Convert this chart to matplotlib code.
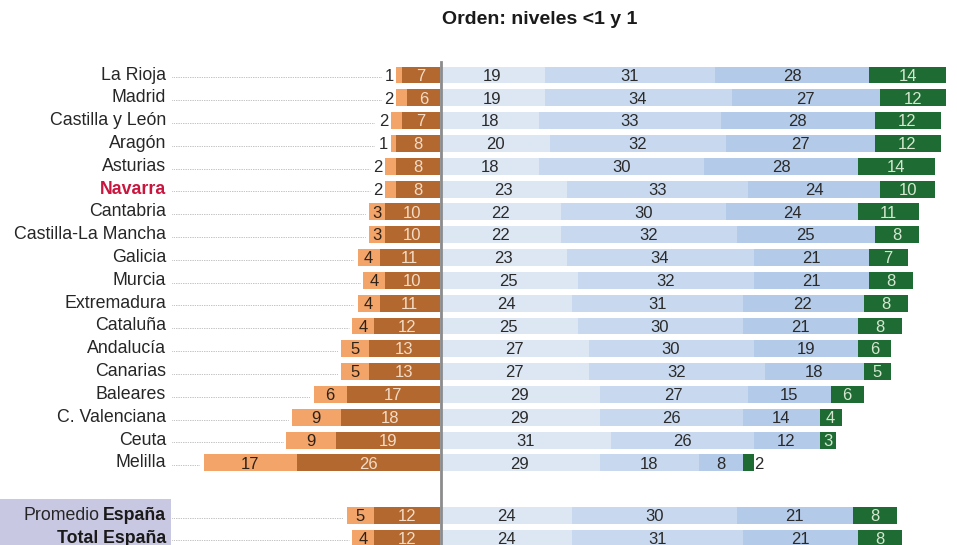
import matplotlib.pyplot as plt
import numpy as np

regiones = ["La Rioja", "Madrid", "Castilla y León", "Aragón", "Asturias", "Navarra",
            "Cantabria", "Castilla-La Mancha", "Galicia", "Murcia", "Extremadura",
            "Cataluña", "Andalucía", "Canarias", "Baleares", "C. Valenciana", "Ceuta",
            "Melilla", "Promedio España", "Total España"]
nivel_menor1 = [1, 2, 2, 1, 2, 2, 3, 3, 4, 4, 4, 4, 5, 5, 6, 9, 9, 17, 5, 4]
nivel1 = [7, 6, 7, 8, 8, 8, 10, 10, 11, 10, 11, 12, 13, 13, 17, 18, 19, 26, 12, 12]
nivel2 = [19, 19, 18, 20, 18, 23, 22, 22, 23, 25, 24, 25, 27, 27, 29, 29, 31, 29, 24, 24]
nivel3 = [31, 34, 33, 32, 30, 33, 30, 32, 34, 32, 31, 30, 30, 32, 27, 26, 26, 18, 30, 31]
nivel4 = [28, 27, 28, 27, 28, 24, 24, 25, 21, 21, 22, 21, 19, 18, 15, 14, 12, 8, 21, 21]
nivel5 = [14, 12, 12, 12, 14, 10, 11, 8, 7, 8, 8, 8, 6, 5, 6, 4, 3, 2, 8, 8]

FUENTE = "Liberation Sans"
pos = np.concatenate([np.arange(18), [19.3, 20.3]])
h = 0.74
fs_lab = 12.8
fs_num = 12

fig = plt.figure(figsize=(9.57, 5.45), dpi=100)
ax = fig.add_axes([0, 0, 1, 1])
ax.set_xlim(-80, 94)
ax.set_ylim(20.6, -3.29)
ax.axis("off")

c_naranja = "#F2A469"
c_marron = "#B3682F"
c_azules = ["#DDE7F4", "#C8D9EF", "#B3CAE8"]
c_verde = "#1E6B34"

n0 = np.array(nivel_menor1)
n1 = np.array(nivel1)

# izquierda: niveles 1 y <1
ax.barh(pos, -n1, height=h, color=c_marron, linewidth=0)
ax.barh(pos, -n0, left=-n1, height=h, color=c_naranja, linewidth=0)

# derecha: niveles 2, 3, 4 y 5
izq = np.zeros(len(pos))
for vals, col in zip([nivel2, nivel3, nivel4], c_azules):
    v = np.array(vals)
    ax.barh(pos, v, left=izq, height=h, color=col, linewidth=0)
    for y, l, w in zip(pos, izq, v):
        ax.text(l + w / 2, y + 0.05, str(w), ha="center", va="center",
                fontsize=fs_num, color="#2a2a2a", family=FUENTE)
    izq = izq + v
v5 = np.array(nivel5)
ax.barh(pos, v5, left=izq, height=h, color=c_verde, linewidth=0)
for y, l, w in zip(pos, izq, v5):
    if w >= 3:
        ax.text(l + w / 2, y + 0.05, str(w), ha="center", va="center",
                fontsize=fs_num, color="#D5E8CF", family=FUENTE)
    else:
        ax.text(l + w + 0.2, y + 0.05, str(w), ha="left", va="center",
                fontsize=fs_num, color="#2a2a2a", family=FUENTE)

# etiquetas izquierda
for y, a, b in zip(pos, n0, n1):
    ax.text(-b / 2, y + 0.05, str(b), ha="center", va="center",
            fontsize=fs_num, color="#F3DCC6", family=FUENTE)
    if a >= 3:
        ax.text(-b - a / 2, y + 0.05, str(a), ha="center", va="center",
                fontsize=fs_num, color="#2e2218", family=FUENTE)
        fin = -(a + b) - 0.6
    else:
        ax.text(-(a + b) - 0.4, y + 0.05, str(a), ha="right", va="center",
                fontsize=fs_num, color="#2a2a2a", family=FUENTE)
        fin = -(a + b) - 2.8
    ax.plot([-48.7, fin], [y + 0.1, y + 0.1], color="#9a9a9a", lw=0.7,
            linestyle=(0, (0.6, 1.2)))

# caja de los totales
ax.add_patch(plt.Rectangle((-80, 18.58), 31.1, 2.1, color="#C9C8E2", linewidth=0))

for y, nombre in zip(pos[:18], regiones[:18]):
    if nombre == "Navarra":
        ax.text(-49.8, y, nombre, ha="right", va="center", fontsize=fs_lab,
                color="#C8163F", fontweight="bold", family=FUENTE)
    else:
        ax.text(-49.8, y, nombre, ha="right", va="center", fontsize=fs_lab,
                color="#262626", family=FUENTE)

fig.canvas.draw()
r = fig.canvas.get_renderer()
t = ax.text(-49.8, pos[18], "España", ha="right", va="center", fontsize=fs_lab,
            fontweight="bold", color="#1a1a1a", family=FUENTE)
ancho = t.get_window_extent(r).width / 5.5
ax.text(-49.8 - ancho - 0.6, pos[18], "Promedio", ha="right", va="center",
        fontsize=fs_lab, color="#262626", family=FUENTE)
ax.text(-49.8, pos[19], "Total España", ha="right", va="center", fontsize=fs_lab,
        fontweight="bold", color="#1a1a1a", family=FUENTE)

# eje central
ax.plot([0.15, 0.15], [-0.57, 20.6], color="#8c8c8c", lw=2)

ax.text(18.2, -2.42, "Orden: niveles <1 y 1", ha="center", va="center",
        fontsize=14, fontweight="bold", color="#1a1a1a", family=FUENTE)

fig.savefig("out.png", dpi=100)
